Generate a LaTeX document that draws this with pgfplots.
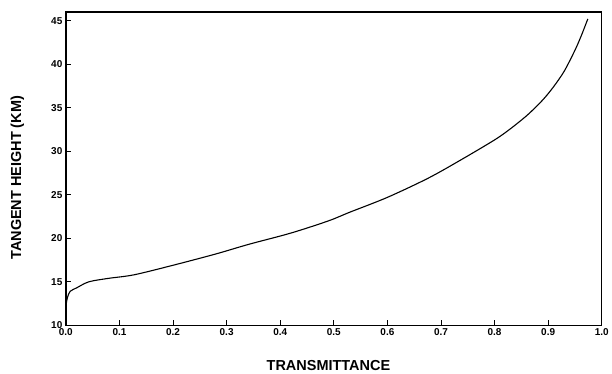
\documentclass[border=0pt]{standalone}
\usepackage{pgfplots}
\pgfplotsset{compat=1.18}
\usepackage{fontspec}
\setmainfont{Liberation Sans}
\begin{document}
\begin{tikzpicture}[x=1pt,y=1pt]
\path (-66,-46) rectangle (546,326);
\begin{axis}[
  at={(0,0)}, anchor=south west,
  scale only axis, width=537pt, height=314pt,
  xmin=0, xmax=1, ymin=10, ymax=46,
  xtick={0,0.1,...,1.0}, ytick={10,15,...,45},
  xticklabel style={/pgf/number format/.cd,fixed,fixed zerofill,precision=1,assume math mode=true},
  yticklabel style={/pgf/number format/assume math mode=true},
  tick label style={font=\fontsize{10}{11}\selectfont\bfseries},
  tick align=inside, tick pos=left,
  major tick length=5pt,
  every tick/.style={black, line width=0.9pt},
  axis line style={line width=1.4pt},
  xlabel={TRANSMITTANCE}, ylabel={TANGENT HEIGHT (KM)},
  label style={font=\fontsize{14.5}{16}\selectfont\bfseries},
  xlabel style={at={(axis description cs:0.49,-0.127)}, anchor=center},
  ylabel style={at={(axis description cs:-0.0903,0.471)}, anchor=center},
]
\addplot[black, line width=1.1pt, smooth, tension=0.5] coordinates {
(0.000,12.2) (0.003,13.2) (0.008,13.9) (0.02,14.3) (0.043,15.0) (0.08,15.4)
(0.127,15.8) (0.2,16.9) (0.28,18.2) (0.341,19.3) (0.42,20.6) (0.49,22.0)
(0.53,23.0) (0.6,24.7) (0.676,26.9) (0.737,29.0) (0.80,31.3) (0.83,32.6)
(0.862,34.2) (0.89,35.9) (0.91,37.4) (0.93,39.2) (0.95,41.6) (0.962,43.3) (0.974,45.2)
};
\end{axis}
\end{tikzpicture}
\end{document}
